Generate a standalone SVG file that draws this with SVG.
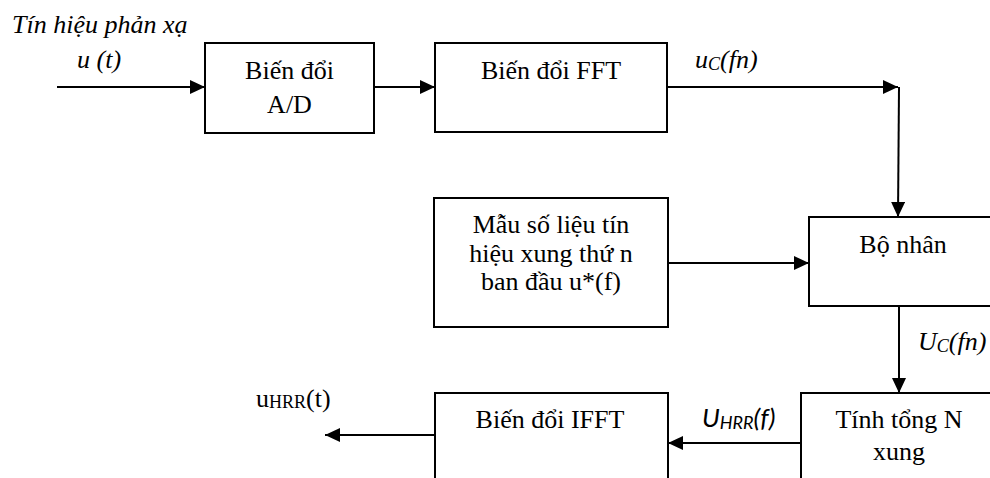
<svg xmlns="http://www.w3.org/2000/svg" width="990" height="478" viewBox="0 0 990 478">
<style>
.box{fill:#fff;stroke:#000;stroke-width:2}
.t{font-family:"Liberation Serif","Times New Roman",serif;font-size:26px;fill:#000}
.c{text-anchor:middle}
.i{font-style:italic}
.s{font-family:Lato,"Open Sans",sans-serif;font-style:italic;font-size:26px;fill:#000}
.ln{fill:none;stroke:#000;stroke-width:2}
</style>
<defs>
<marker id="ah" markerUnits="userSpaceOnUse" markerWidth="16" markerHeight="14" refX="15" refY="7" orient="auto">
<path d="M0,0 L15,7 L0,14 z" fill="#000"/>
</marker>
</defs>
<rect width="990" height="478" fill="#fff"/>
<g id="connectors">
<line class="ln" x1="57" y1="87" x2="205" y2="87" marker-end="url(#ah)"/>
<line class="ln" x1="374" y1="87" x2="435" y2="87" marker-end="url(#ah)"/>
<line class="ln" x1="667" y1="87" x2="898" y2="87" marker-end="url(#ah)"/>
<line class="ln" x1="899" y1="87" x2="898" y2="217" marker-end="url(#ah)"/>
<line class="ln" x1="668" y1="263" x2="809" y2="263" marker-end="url(#ah)"/>
<line class="ln" x1="899" y1="306" x2="899" y2="393" marker-end="url(#ah)"/>
<line class="ln" x1="801" y1="443" x2="668" y2="443" marker-end="url(#ah)"/>
<line class="ln" x1="435" y1="435" x2="325" y2="435" marker-end="url(#ah)"/>
</g>
<g id="labels">
<text class="t i" x="12" y="33">Tín hiệu phản xạ</text>
<text class="t i" x="77" y="68">u (t)</text>
<text class="t i" x="695" y="68">u<tspan font-size="18" dy="2">C</tspan><tspan dy="-2">(fn)</tspan></text>
<text class="t i" x="918" y="350">U<tspan font-size="18" dy="2">C</tspan><tspan dy="-2">(fn)</tspan></text>
<text class="s" x="702" y="427">U<tspan font-size="18" dy="2">HRR</tspan><tspan dy="-2">(f)</tspan></text>
<text class="t" x="256" y="407">u<tspan font-size="18" dy="1">HRR</tspan><tspan dy="-1">(t)</tspan></text>
</g>
<g id="ad">
<rect class="box" x="205" y="43" width="169" height="90"/>
<text class="t c" x="289.5" y="79">Biến đổi</text>
<text class="t c" x="289.5" y="113">A/D</text>
</g>
<g id="fft">
<rect class="box" x="435" y="43" width="232" height="89"/>
<text class="t c" x="551" y="79">Biến đổi FFT</text>
</g>
<g id="mau">
<rect class="box" x="434" y="198" width="234" height="129"/>
<text class="t c" x="551" y="233">Mẫu số liệu tín</text>
<text class="t c" x="551" y="262">hiệu xung thứ n</text>
<text class="t c" x="551" y="290">ban đầu u*(f)</text>
</g>
<g id="bonhan">
<rect class="box" x="809" y="217" width="190" height="89"/>
<text class="t c" x="903" y="253">Bộ nhân</text>
</g>
<g id="ifft">
<rect class="box" x="435" y="393" width="233" height="100"/>
<text class="t c" x="550" y="428">Biến đổi IFFT</text>
</g>
<g id="tong">
<rect class="box" x="801" y="393" width="198" height="100"/>
<text class="t c" x="899" y="428">Tính tổng N</text>
<text class="t c" x="899" y="460">xung</text>
</g>
</svg>
